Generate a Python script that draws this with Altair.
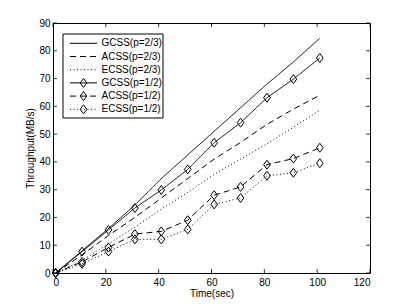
import altair as alt
import pandas as pd

# ---- data ----
time_s = [1, 11, 21, 31, 41, 51, 61, 71, 81, 91, 101]
gcss_23 = [0, 8, 16, 24.5, 34, 42.5, 51, 59.5, 68, 76, 84.5]
acss_23 = [0, 6.5, 13.5, 20, 27, 34, 41, 47, 53.5, 59, 64]
ecss_23 = [0, 4.5, 10.5, 16.5, 23, 29, 35.5, 41, 46.5, 52.5, 58.5]
gcss_12 = [0, 7.7, 15.5, 23.4, 29.9, 37.3, 46.9, 54.1, 63.1, 69.8, 77.4]
acss_12 = [0, 4, 9.2, 14, 15, 19, 28, 31, 39, 41.2, 45.1]
ecss_12 = [0, 3.3, 7.7, 12.1, 12.1, 15.7, 24.7, 27, 35, 36.1, 39.5]

names = ["GCSS(p=2/3)", "ACSS(p=2/3)", "ECSS(p=2/3)",
         "GCSS(p=1/2)", "ACSS(p=1/2)", "ECSS(p=1/2)"]
values = [gcss_23, acss_23, ecss_23, gcss_12, acss_12, ecss_12]
markers = [False, False, False, True, True, True]

x_ticks = [0, 20, 40, 60, 80, 100, 120]
y_ticks = [0, 10, 20, 30, 40, 50, 60, 70, 80, 90]

# ---- styling ----
W, H = 317, 250
FONT = "Liberation Sans"
FS = 10
dash_styles = [[1, 0], [6, 4], [1, 2.5], [1, 0], [6, 4], [1, 2.5]]
DIAMOND = "M-0.75,0L0,-1L0.75,0L0,1Z"
MSIZE = 80

xscale = alt.Scale(domain=[0, 120], nice=False)
yscale = alt.Scale(domain=[0, 90], nice=False)

xaxis = alt.Axis(values=x_ticks, labelPadding=4, titlePadding=1)
yaxis = alt.Axis(values=y_ticks, labelPadding=3, titlePadding=3)
XT = "Time(sec)"
YT = "Throughput(MB/s)"


def X(field):
    return alt.X(field, type="quantitative", scale=xscale, axis=xaxis, title=XT)


def Y(field):
    return alt.Y(field, type="quantitative", scale=yscale, axis=yaxis, title=YT)


layers = []

# inward ticks (all four sides)
xt = pd.DataFrame({"tk": x_ticks})
yt = pd.DataFrame({"tk": y_ticks})
tick_style = dict(color="black", strokeWidth=0.8)
layers.append(alt.Chart(xt).mark_rule(**tick_style).encode(
    x=X("tk"), y=alt.value(H), y2=alt.value(H - 4)))
layers.append(alt.Chart(xt).mark_rule(**tick_style).encode(
    x=X("tk"), y=alt.value(0), y2=alt.value(4)))
layers.append(alt.Chart(yt).mark_rule(**tick_style).encode(
    y=Y("tk"), x=alt.value(0), x2=alt.value(4)))
layers.append(alt.Chart(yt).mark_rule(**tick_style).encode(
    y=Y("tk"), x=alt.value(W), x2=alt.value(W - 4)))

# data series
for name, vals, mk, dash in zip(names, values, markers, dash_styles):
    df = pd.DataFrame({"t": time_s, "v": vals, "s": name})
    layers.append(alt.Chart(df).mark_line(color="black", strokeWidth=1,
                                          strokeDash=dash).encode(
        x=X("t"), y=Y("v")))
    if mk:
        layers.append(alt.Chart(df).mark_point(shape=DIAMOND, size=MSIZE,
                                               filled=False, color="black",
                                               strokeWidth=1, opacity=1).encode(
            x=X("t"), y=Y("v")))

# legend box
one = pd.DataFrame({"a": [0]})
layers.append(alt.Chart(one).mark_rect(fill="white", stroke="black",
                                       strokeWidth=1).encode(
    x=alt.value(10), x2=alt.value(110), y=alt.value(11), y2=alt.value(95)))

row0, step = 20.3, 13.2
for i, (name, mk, dash) in enumerate(zip(names, markers, dash_styles)):
    py = row0 + step * i
    layers.append(alt.Chart(one).mark_rule(color="black", strokeWidth=1,
                                           strokeDash=dash).encode(
        x=alt.value(17), x2=alt.value(44), y=alt.value(py)))
    if mk:
        layers.append(alt.Chart(one).mark_point(shape=DIAMOND, size=MSIZE,
                                                filled=False, color="black",
                                                strokeWidth=1, opacity=1).encode(
            x=alt.value(30.5), y=alt.value(py)))
    layers.append(alt.Chart(one).mark_text(align="left", baseline="middle",
                                           font=FONT, fontSize=FS,
                                           color="black").encode(
        x=alt.value(48.5), y=alt.value(py), text=alt.value(name)))

chart = alt.layer(*layers).properties(
    width=W, height=H,
    autosize=alt.AutoSizeParams(type="none"),
    padding={"left": 45, "top": 15, "right": 31, "bottom": 27},
    background="white",
).configure_view(
    stroke="black", strokeWidth=1
).configure_axis(
    domain=False, ticks=False, grid=False, labelOverlap=False,
    labelFont=FONT, titleFont=FONT, labelFontSize=FS, titleFontSize=FS,
    titleFontWeight="normal", labelColor="black", titleColor="black",
)

chart.save("out.html", embed_options={"renderer": "svg", "actions": False})
